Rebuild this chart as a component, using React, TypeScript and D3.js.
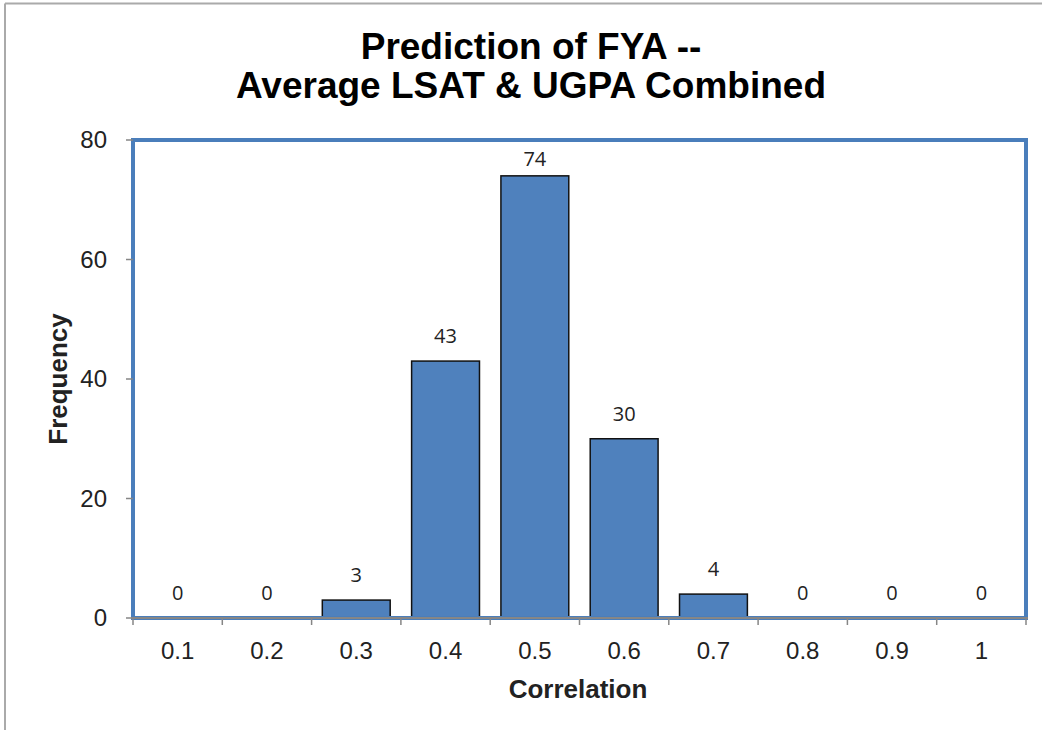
import React from "react";
import * as d3 from "d3";

const categories = ["0.1", "0.2", "0.3", "0.4", "0.5", "0.6", "0.7", "0.8", "0.9", "1"];
const frequencies = [0, 0, 3, 43, 74, 30, 4, 0, 0, 0];
const yTicks = [0, 20, 40, 60, 80];
const titleLines = ["Prediction of FYA --", "Average LSAT & UGPA Combined"];

const W = 1042;
const H = 730;
const M = { left: 133, right: 1026, top: 140, bottom: 618 };

export default function App() {
  const x = d3
    .scaleBand<string>()
    .domain(categories)
    .range([M.left, M.right])
    .paddingInner(0.24)
    .paddingOuter(0.12);
  const y = d3.scaleLinear().domain([0, 80]).range([M.bottom, M.top]);
  const step = x.step();
  const bounds = d3.range(categories.length + 1).map((i) => M.left + i * step);

  return (
    <svg
      width={W}
      height={H}
      style={{ position: "absolute", left: 0, top: 0, background: "#fff" }}
      fontFamily="'Liberation Sans', Arial, sans-serif"
    >
      <rect x={0} y={0} width={W} height={H} fill="#fff" />
      {/* outer chart border */}
      <line x1={5} y1={3.5} x2={W} y2={3.5} stroke="#aaaaaa" strokeWidth={2} />
      <line x1={5} y1={3.5} x2={5} y2={H} stroke="#aaaaaa" strokeWidth={2} />

      {/* title */}
      {titleLines.map((t, i) => (
        <text
          key={i}
          x={531}
          y={59 + i * 39}
          textAnchor="middle"
          fontSize={37}
          fontWeight="bold"
          fill="#000"
        >
          {t}
        </text>
      ))}

      {/* bars */}
      {categories.map((c, i) =>
        frequencies[i] > 0 ? (
          <rect
            key={c}
            x={x(c)}
            y={y(frequencies[i])}
            width={x.bandwidth()}
            height={y(0) - y(frequencies[i])}
            fill="#4f81bd"
            stroke="#111"
            strokeWidth={1.5}
          />
        ) : null
      )}

      {/* plot area border */}
      <rect
        x={M.left}
        y={M.top}
        width={M.right - M.left}
        height={M.bottom - M.top}
        fill="none"
        stroke="#4a7ebb"
        strokeWidth={4}
      />

      {/* x axis */}
      <line x1={M.left - 2} y1={M.bottom} x2={M.right + 2} y2={M.bottom} stroke="#868686" strokeWidth={2} />
      {bounds.map((b, i) => (
        <line key={i} x1={b} y1={M.bottom} x2={b} y2={M.bottom + 7} stroke="#868686" strokeWidth={1.5} />
      ))}
      {categories.map((c) => (
        <text
          key={c}
          x={(x(c) as number) + x.bandwidth() / 2}
          y={659}
          textAnchor="middle"
          fontSize={24}
          fill="#222"
        >
          {c}
        </text>
      ))}

      {/* y axis ticks */}
      {yTicks.map((t) => (
        <g key={t}>
          <line x1={M.left - 7} y1={y(t)} x2={M.left} y2={y(t)} stroke="#868686" strokeWidth={1.5} />
          <text x={107} y={y(t) + 8} textAnchor="end" fontSize={24} fill="#222">
            {t}
          </text>
        </g>
      ))}

      {/* data labels */}
      {categories.map((c, i) => (
        <text
          key={c}
          x={(x(c) as number) + x.bandwidth() / 2}
          y={Math.max(y(frequencies[i]) - 18, M.top + 26)}
          textAnchor="middle"
          fontSize={20}
          fontFamily="'Open Sans', 'DejaVu Sans', sans-serif"
          fill="#222"
        >
          {frequencies[i]}
        </text>
      ))}

      {/* axis titles */}
      <text
        x={578}
        y={698}
        textAnchor="middle"
        fontSize={26}
        fontWeight="bold"
        fill="#222"
      >
        Correlation
      </text>
      <text
        transform={`translate(67,379) rotate(-90)`}
        textAnchor="middle"
        fontSize={26}
        fontWeight="bold"
        fill="#222"
      >
        Frequency
      </text>
    </svg>
  );
}
